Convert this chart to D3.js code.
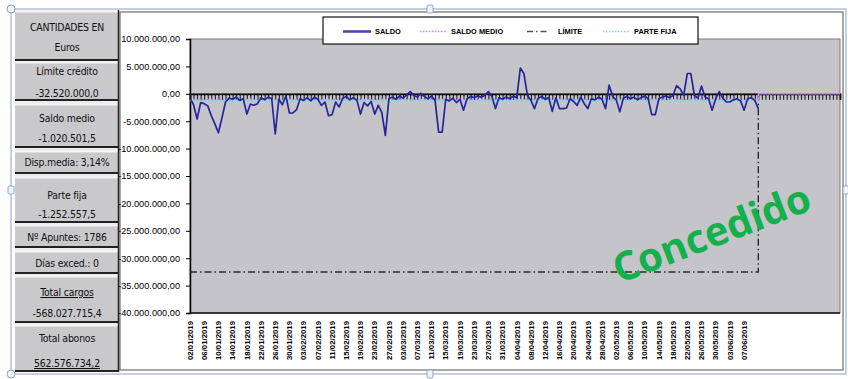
<!DOCTYPE html>
<html>
<head>
<meta charset="utf-8">
<script src="https://cdn.jsdelivr.net/npm/d3@7"></script>
<style>
  html, body { margin: 0; padding: 0; background: #fff; }
  svg { display: block; }
</style>
</head>
<body>
<svg id="chart" width="848" height="379"></svg>
<script>
// ---- Data -------------------------------------------------------------
// Daily account balance, in millions of euros
const saldoMill = [
  -0.8, -2.0, -4.6, -1.6, -1.8, -2.2, -4.0, -5.5, -7.1, -4.4,
  -1.5, -0.8, -1.0, -0.6, -1.2, -0.9, -3.7, -1.9, -2.1, -1.8,
  -0.7, -1.1, -0.6, -0.9, -7.3, -1.0, -2.0, -0.4, -3.5, -3.5,
  -2.9, -0.9, -1.2, -0.7, -1.3, -0.6, -1.0, -2.1, -1.5, -4.0,
  -3.8, -1.5, -2.4, -0.8, -0.5, -1.1, -0.7, -1.2, -3.7, -1.6,
  -2.2, -1.4, -3.7, -2.1, -3.4, -7.6, -0.9, -0.6, -1.0, -0.4,
  -0.8, -0.2,  0.4, -0.3, -0.6,  0.1, -0.5, -0.9, -0.4, -1.2,
  -7.0, -7.0, -1.0, -1.3, -0.8, -1.6, -1.0, -3.0, -0.9, -0.5,
  -0.7, -0.4, -0.6, -0.3,  0.4, -0.5, -2.7, -0.7, -1.0, -0.6,
  -0.9, -0.4, -0.7,  4.7,  3.7, -0.3, -1.2, -2.7, -0.8, -0.5,
  -1.0, -0.7, -3.2, -0.7, -2.7, -2.7, -2.6, -0.9, -1.4, -2.1,
  -0.6, -1.8, -2.7, -0.9, -1.1, -0.6, -1.0, -2.7,  1.6, -0.5,
  -1.1, -3.3, -0.8, -0.5, -0.9, -0.6, -1.1, -0.7, -0.4, -0.9,
  -3.8, -3.8, -0.9, -0.6, -0.4, -0.7, -0.3,  1.5,  0.9, -0.3,
   3.7,  3.7, -0.3, -0.8,  1.4, -0.6, -0.9, -3.0, -0.9,  0.4,
  -0.8, -1.5, -1.5, -1.1, -0.9, -1.3, -3.0, -0.9, -0.7, -1.2,
  -2.7
];
const totalDias = 184;             // days on the category axis
const limiteCredito = -32520000;
const saldoMedio = -1020501.5;
const parteFija = -1252557.5;
const dispMedia = 3.14;
const numApuntes = 1786;
const diasExceso = 0;
const totalCargos = -568027715.4;
const totalAbonos = 562576734.2;

// one label every fourth day
const fechaLabels = [
  "02/01/2019", "06/01/2019", "10/01/2019", "14/01/2019", "18/01/2019",
  "22/01/2019", "26/01/2019", "30/01/2019", "03/02/2019", "07/02/2019",
  "11/02/2019", "15/02/2019", "19/02/2019", "23/02/2019", "27/02/2019",
  "03/03/2019", "07/03/2019", "11/03/2019", "15/03/2019", "19/03/2019",
  "23/03/2019", "27/03/2019", "31/03/2019", "04/04/2019", "08/04/2019",
  "12/04/2019", "16/04/2019", "20/04/2019", "24/04/2019", "28/04/2019",
  "02/05/2019", "06/05/2019", "10/05/2019", "14/05/2019", "18/05/2019",
  "22/05/2019", "26/05/2019", "30/05/2019", "03/06/2019", "07/06/2019"
];
const labelStep = 4;
const yTicks = [10e6, 5e6, 0, -5e6, -10e6, -15e6, -20e6, -25e6, -30e6, -35e6, -40e6];
const legendNames = ["SALDO", "SALDO MEDIO", "LÍMITE", "PARTE FIJA"];
const stampText = "Concedido";

// ---- Formatting -------------------------------------------------------
const es = d3.formatLocale({ decimal: ",", thousands: ".", grouping: [3], currency: ["", " €"], minus: "-" });
const fmt2 = es.format(",.2f");
const fmt1 = es.format(",.1f");

const panelRows = [
  ["CANTIDADES EN", "Euros"],
  ["Límite crédito", fmt1(limiteCredito)],
  ["Saldo medio", fmt1(saldoMedio)],
  ["Disp.media: " + es.format(".2f")(dispMedia) + "%"],
  ["Parte fija", fmt1(parteFija)],
  ["Nº Apuntes: " + numApuntes],
  ["Días exced.: " + diasExceso],
  ["Total cargos", fmt1(totalCargos)],
  ["Total abonos", fmt1(totalAbonos)]
];

// ---- Layout -----------------------------------------------------------
const svg = d3.select("#chart");
const plot = { left: 190, right: 840, top: 39, bottom: 313 };

// panel cell geometry: top, bottom, text baselines, underlined line index
const panelLayout = [
  { y0: 11,  y1: 60,  ty: [31, 51] },
  { y0: 62,  y1: 100, ty: [75, 97] },
  { y0: 104, y1: 147, ty: [122, 142] },
  { y0: 151, y1: 173, ty: [166] },
  { y0: 177, y1: 222, ty: [199, 218] },
  { y0: 225, y1: 247, ty: [241] },
  { y0: 251, y1: 273, ty: [267] },
  { y0: 276, y1: 322, ty: [296, 317], u: 0 },
  { y0: 325, y1: 371, ty: [342, 367], u: 1 }
];

// chart frame (white area)
svg.append("rect").attr("x", 120).attr("y", 12).attr("width", 723).attr("height", 358)
  .attr("fill", "#fff").attr("stroke", "#6d6d6d").attr("stroke-width", 1.2);

// left summary panel
const panel = svg.append("g");
panel.append("rect").attr("x", 15).attr("y", 10).attr("width", 104).attr("height", 362)
  .attr("fill", "#ececec");
panelLayout.forEach((c, i) => {
  panel.append("rect").attr("x", 15).attr("y", c.y0).attr("width", 103).attr("height", c.y1 - c.y0)
    .attr("fill", "#c9c8cb");
  panel.append("line").attr("x1", 15).attr("x2", 118).attr("y1", c.y0 + 0.5).attr("y2", c.y0 + 0.5)
    .attr("stroke", "#f4f4f4").attr("stroke-width", 2);
  panel.append("line").attr("x1", 15).attr("x2", 118).attr("y1", c.y1).attr("y2", c.y1)
    .attr("stroke", "#222").attr("stroke-width", 2);
  panelRows[i].forEach((t, j) => {
    panel.append("text").attr("x", 67).attr("y", c.ty[j])
      .attr("text-anchor", "middle")
      .attr("font-family", "'Liberation Sans Narrow', 'DejaVu Sans Condensed', sans-serif")
      .attr("font-size", 10.4)
      .attr("letter-spacing", -0.2)
      .attr("fill", "#111")
      .attr("text-decoration", c.u === j ? "underline" : null)
      .text(t);
  });
});
panel.append("line").attr("x1", 118.5).attr("x2", 118.5).attr("y1", 10).attr("y2", 372)
  .attr("stroke", "#222").attr("stroke-width", 1.5);

// ---- Scales -----------------------------------------------------------
const days = d3.range(totalDias);
const x = d3.scalePoint().domain(days).range([plot.left, plot.right]);
const y = d3.scaleLinear().domain([-40e6, 10e6]).range([plot.bottom, plot.top]);

// plot background
svg.append("rect").attr("x", plot.left).attr("y", plot.top)
  .attr("width", plot.right - plot.left).attr("height", plot.bottom - plot.top)
  .attr("fill", "#c5c4c8").attr("stroke", "#7a7a7a").attr("stroke-width", 1);

// value axis
const yAxis = svg.append("g").attr("transform", `translate(${plot.left},0)`)
  .call(d3.axisLeft(y).tickValues(yTicks).tickFormat(fmt2).tickSize(4).tickPadding(6));
yAxis.select(".domain").attr("stroke", "#000").attr("stroke-width", 1.5);
yAxis.selectAll(".tick line").attr("stroke", "#000");
yAxis.selectAll("text").attr("font-family", "'Liberation Sans', Arial, sans-serif")
  .attr("font-size", 9.2).attr("fill", "#000");

// bottom edge of plot
svg.append("line").attr("x1", plot.left).attr("x2", plot.right)
  .attr("y1", plot.bottom).attr("y2", plot.bottom).attr("stroke", "#111").attr("stroke-width", 1.5);

// category axis crossing at zero, ticks on every day
const xAxis = svg.append("g").attr("transform", `translate(0,${y(0)})`)
  .call(d3.axisBottom(x).tickValues(days).tickSize(6).tickFormat(""));
xAxis.select(".domain").attr("stroke", "#000").attr("stroke-width", 1.8);
xAxis.selectAll(".tick line").attr("stroke", "#111").attr("stroke-width", 1);

// category labels placed low, rotated
svg.append("g").selectAll("text").data(fechaLabels).join("text")
  .attr("transform", (d, i) => `translate(${x(i * labelStep)},321) rotate(-90)`)
  .attr("text-anchor", "end")
  .attr("dy", "0.35em")
  .attr("font-family", "'Liberation Sans', Arial, sans-serif")
  .attr("font-weight", "bold")
  .attr("font-size", 7.8)
  .attr("fill", "#000")
  .text(d => d);

// ---- Series -----------------------------------------------------------
const nSaldo = saldoMill.length;
const constSeries = v => days.map(i => ({ i, v: i < nSaldo ? v : 0 }));

const stepLine = d3.line().x(d => x(d.i)).y(d => y(d.v)).curve(d3.curveStepBefore);

svg.append("path").datum(constSeries(limiteCredito)).attr("d", stepLine)
  .attr("fill", "none").attr("stroke", "#2a2a2a").attr("stroke-width", 1.4)
  .attr("stroke-dasharray", "7,3,1.5,3");

svg.append("path").datum(constSeries(parteFija)).attr("d", stepLine)
  .attr("fill", "none").attr("stroke", "#86cdee").attr("stroke-width", 1.6)
  .attr("stroke-dasharray", "1.5,1.5");

svg.append("path").datum(constSeries(saldoMedio)).attr("d", stepLine)
  .attr("fill", "none").attr("stroke", "#ff70ff").attr("stroke-width", 1.4)
  .attr("stroke-dasharray", "1.5,1.5");

const saldoLine = d3.line().x((d, i) => x(i)).y(d => y(d * 1e6));
svg.append("path").datum(saldoMill).attr("d", saldoLine)
  .attr("fill", "none").attr("stroke", "#26269c").attr("stroke-width", 1.7)
  .attr("stroke-linejoin", "round");

// ---- Legend -----------------------------------------------------------
const legend = svg.append("g");
legend.append("rect").attr("x", 323).attr("y", 17).attr("width", 375).attr("height", 27)
  .attr("fill", "#fff").attr("stroke", "#111").attr("stroke-width", 1.2);
const legendStyles = [
  { stroke: "#4a4aa8", w: 2.6, dash: null },
  { stroke: "#ff70ff", w: 1.4, dash: "1.5,1.5" },
  { stroke: "#555", w: 1.4, dash: "6,3,1.5,3" },
  { stroke: "#86cdee", w: 1.4, dash: "1.5,1.5" }
];
const legendX = [343, 420, 527, 603];
const legendW = [28, 27, 20, 27];
legendNames.forEach((name, k) => {
  legend.append("line").attr("x1", legendX[k]).attr("x2", legendX[k] + legendW[k])
    .attr("y1", 31.5).attr("y2", 31.5)
    .attr("stroke", legendStyles[k].stroke).attr("stroke-width", legendStyles[k].w)
    .attr("stroke-dasharray", legendStyles[k].dash);
  legend.append("text").attr("x", legendX[k] + legendW[k] + (k === 2 ? 11 : 4)).attr("y", 31.5)
    .attr("dy", "0.35em")
    .attr("font-family", "'Liberation Sans', Arial, sans-serif")
    .attr("font-weight", "bold").attr("font-size", 7.4).attr("fill", "#000")
    .text(name);
});

// ---- Stamp ------------------------------------------------------------
svg.append("text")
  .attr("transform", "translate(711,232) rotate(-21)")
  .attr("text-anchor", "middle").attr("dominant-baseline", "central")
  .attr("font-family", "'Open Sans', Lato, sans-serif")
  .attr("font-weight", "bold").attr("font-size", 40)
  .attr("fill", "#13b04d")
  .text(stampText);

// ---- Selection frame with handles ------------------------------------
const frame = svg.append("g");
frame.append("rect").attr("x", 11).attr("y", 9).attr("width", 835).attr("height", 365)
  .attr("fill", "none").attr("stroke", "#9db3cf").attr("stroke-width", 1.2);
[[11, 9], [11, 374]].forEach(p => frame.append("circle")
  .attr("cx", p[0]).attr("cy", p[1]).attr("r", 4)
  .attr("fill", "#f0f4fa").attr("stroke", "#8ea4c4"));
[[11, 190], [430, 374], [846, 190], [430, 9]].forEach(p => frame.append("rect")
  .attr("x", p[0] - 3).attr("y", p[1] - 4).attr("width", 6).attr("height", 8).attr("rx", 1.5)
  .attr("fill", "#f0f4fa").attr("stroke", "#8ea4c4"));
</script>
</body>
</html>
